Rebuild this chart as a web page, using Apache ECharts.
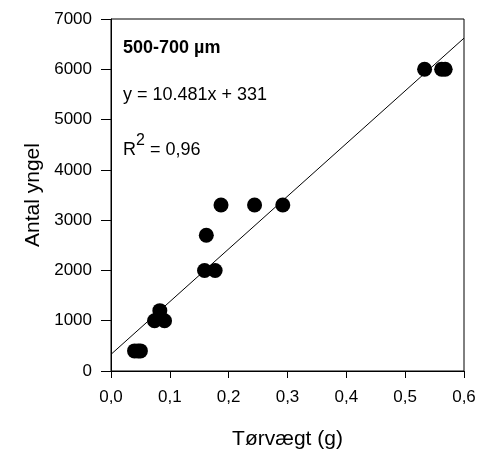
<!DOCTYPE html>
<html><head><meta charset="utf-8">
<script src="https://cdn.jsdelivr.net/npm/echarts@6/dist/echarts.min.js"></script>
<style>html,body{margin:0;padding:0;background:#fff}#c{width:478px;height:452px}</style>
</head><body><div id="c"></div>
<script>
const dryWeight = [0.040, 0.046, 0.050, 0.074, 0.091, 0.083, 0.159, 0.177, 0.162, 0.187, 0.244, 0.292, 0.533, 0.562, 0.568];
const fryCount  = [400, 400, 400, 1000, 1000, 1200, 2000, 2000, 2700, 3300, 3300, 3300, 6000, 6000, 6000];
const fitSlope = 10481;   // per g
const fitIntercept = 331;
const fitRange = [0, 0.6];
const xTicks = ['0,0','0,1','0,2','0,3','0,4','0,5','0,6'];
const yTicks = [0,1000,2000,3000,4000,5000,6000,7000];

const points = dryWeight.map((x,i)=>[x, fryCount[i]]);
const fitLine = fitRange.map(x=>[x, fitSlope*x + fitIntercept]);
const font = 'Liberation Sans, Arial, sans-serif';

const chart = echarts.init(document.getElementById('c'), null, {renderer:'canvas'});
chart.setOption({
  animation:false,
  grid:{left:111, top:19, right:14, bottom:81, containLabel:false, outerBoundsMode:'none',
    show:true, borderColor:'#000', borderWidth:1, backgroundColor:'transparent'},
  xAxis:{type:'value', min:0, max:0.6, interval:0.1,
    name:'Tørvægt (g)', nameLocation:'middle', nameGap:58,
    nameTextStyle:{fontFamily:font, fontSize:21, color:'#000'},
    axisLine:{lineStyle:{color:'#000', width:1}},
    axisTick:{show:true, inside:false, length:7, lineStyle:{color:'#000'}},
    axisLabel:{fontFamily:font, fontSize:17, color:'#000', margin:18,
      formatter:(v)=>xTicks[Math.round(v*10)]},
    splitLine:{show:false}},
  yAxis:{type:'value', min:0, max:7000, interval:1000,
    name:'Antal yngel', nameLocation:'middle', nameGap:65, nameRotate:90,
    nameTextStyle:{fontFamily:font, fontSize:21, color:'#000'},
    axisLine:{lineStyle:{color:'#000', width:1}},
    axisTick:{show:true, inside:false, length:10, lineStyle:{color:'#000'}},
    axisLabel:{fontFamily:font, fontSize:17, color:'#000', margin:19,
      formatter:(v)=>String(yTicks[Math.round(v/1000)])},
    splitLine:{show:false}},
  series:[
    {type:'line', data:fitLine, symbol:'none', lineStyle:{color:'#000', width:1}, z:1},
    {type:'scatter', data:points, symbol:'circle', symbolSize:15, itemStyle:{color:'#000', opacity:1}, z:2}
  ],
  graphic:[
    {type:'text', left:123, top:39, style:{text:'500-700 µm', font:'bold 18px '+font, fill:'#000'}},
    {type:'text', left:123, top:86, style:{text:'y = 10.481x + 331', font:'18px '+font, fill:'#000'}},
    {type:'text', left:123, top:133, style:{
      text:'{r|R}{s|2}{r| = 0,96}',
      rich:{r:{fontSize:18, fontFamily:font, color:'#000', verticalAlign:'bottom', lineHeight:26},
            s:{fontSize:16, fontFamily:font, color:'#000', verticalAlign:'top', lineHeight:26}}}}
  ]
});
</script></body></html>
